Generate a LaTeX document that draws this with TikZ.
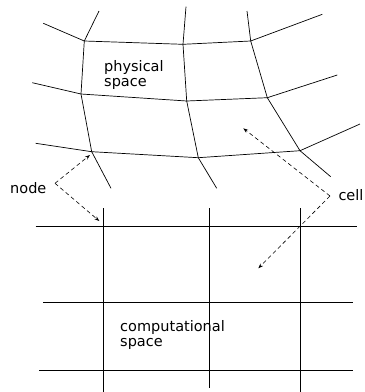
\documentclass[tikz,border=0pt]{standalone}
\usepackage{fontspec}
\setmainfont{DejaVu Sans}
\usetikzlibrary{arrows.meta}
\begin{document}
\begin{tikzpicture}[x=1pt,y=-1pt,
  gridline/.style={line width=0.7pt,black},
  pointer/.style={line width=0.6pt,dash pattern=on 4pt off 3pt,-{Stealth[length=5pt,width=3.6pt]}},
  label/.style={inner sep=0pt,font=\fontsize{14.5}{15}\selectfont,align=left}]
\useasboundingbox (0,0) rectangle (365,392);
% physical grid points
\coordinate (A1) at (84.3,41);   \coordinate (A2) at (183,44.3);  \coordinate (A3) at (250.7,41);
\coordinate (B1) at (81,94);     \coordinate (B2) at (186.7,101); \coordinate (B3) at (267.3,97.7);
\coordinate (C1) at (91.7,151.7);\coordinate (C2) at (198.3,157.7);\coordinate (C3) at (300,150.7);
% stubs
\coordinate (sA1l) at (43.3,23.3); \coordinate (sA1u) at (99,11);
\coordinate (sA2u) at (186,6.7);   \coordinate (sA3u) at (247,11); \coordinate (sA3r) at (322.3,14.3);
\coordinate (sB1l) at (32.3,82.7); \coordinate (sB3r) at (337.3,75);
\coordinate (sC1l) at (35.7,143.3);\coordinate (sC3r) at (360,124);
\coordinate (sC1d) at (111,188.3); \coordinate (sC2d) at (216.7,188.3); \coordinate (sC3d) at (330.7,176.7);
% physical grid lines
\draw[gridline] (sA1l) -- (A1) -- (A2) -- (A3) -- (sA3r);
\draw[gridline] (sB1l) -- (B1) -- (B2) -- (B3) -- (sB3r);
\draw[gridline] (sC1l) -- (C1) -- (C2) -- (C3) -- (sC3r);
\draw[gridline] (sA1u) -- (A1) -- (B1) -- (C1) -- (sC1d);
\draw[gridline] (sA2u) -- (A2) -- (B2) -- (C2) -- (sC2d);
\draw[gridline] (sA3u) -- (A3) -- (B3) -- (C3) -- (sC3d);
% computational grid
\coordinate (h1l) at (35.7,226.7); \coordinate (h1r) at (356.7,226.7);
\coordinate (h2l) at (43.3,302.3); \coordinate (h2r) at (352.7,302.3);
\coordinate (h3l) at (39.3,370);   \coordinate (h3r) at (352.7,370);
\coordinate (v1t) at (103.3,208.3); \coordinate (v1b) at (103.3,392);
\coordinate (v2t) at (209.3,208.3); \coordinate (v2b) at (209.3,388.3);
\coordinate (v3t) at (300,208.3);   \coordinate (v3b) at (300,392);
\draw[gridline] (h1l) -- (h1r);
\draw[gridline] (h2l) -- (h2r);
\draw[gridline] (h3l) -- (h3r);
\draw[gridline] (v1t) -- (v1b);
\draw[gridline] (v2t) -- (v2b);
\draw[gridline] (v3t) -- (v3b);
% labels
\node[label,anchor=north west] (phys) at (104,60.6) {physical\\space};
\node[label,anchor=north west] (comp) at (120,320.6) {computational\\space};
\node[label,anchor=base west] (nodelbl) at (10,193.5) {node};
\node[label,anchor=base west] (celllbl) at (338.3,200) {cell};
% pointers
\coordinate (nv) at (55,183.3);
\coordinate (ntip1) at (90,155);
\coordinate (ntip2) at (99.3,221);
\coordinate (cv) at (330,196);
\coordinate (ctip1) at (243.3,128.3);
\coordinate (ctip2) at (258.3,268.3);
\draw[pointer] (nv) -- (ntip1);
\draw[pointer] (nv) -- (ntip2);
\draw[pointer] (cv) -- (ctip1);
\draw[pointer] (cv) -- (ctip2);
\end{tikzpicture}
\end{document}
